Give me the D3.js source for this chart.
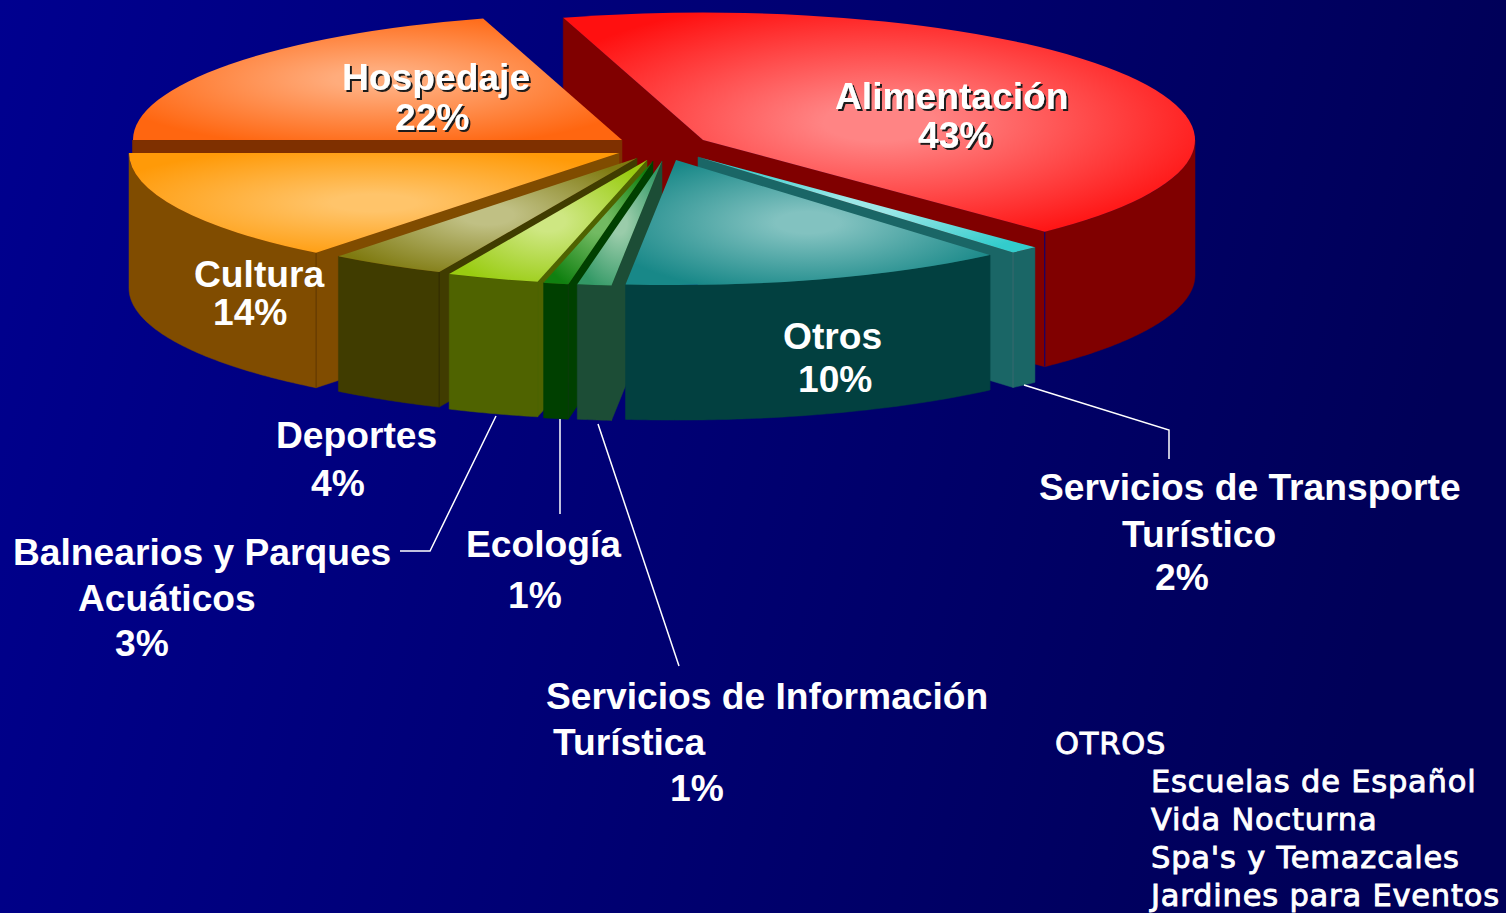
<!DOCTYPE html>
<html>
<head>
<meta charset="utf-8">
<script src="https://cdn.jsdelivr.net/npm/d3@7"></script>
<style>
  html, body { margin: 0; padding: 0; background: #000070; }
  svg { display: block; }
  text { font-family: "Liberation Sans", Arial, sans-serif; font-weight: bold; font-size: 37.2px; fill: #fff; }
  .otros text { font-family: "DejaVu Sans", sans-serif; font-weight: normal; font-size: 30.5px; letter-spacing: 0.8px; stroke: #fff; stroke-width: 0.9px; }
</style>
</head>
<body>
<svg id="chart" width="1506" height="913"></svg>
<script>
const names = ["Alimentación", "Servicios de Transporte Turístico", "Otros", "Servicios de Información Turística",
  "Ecología", "Balnearios y Parques Acuáticos", "Deportes", "Cultura", "Hospedaje"];
// percentages printed on the chart
const percents = [43, 2, 10, 1, 1, 3, 4, 14, 22];
// the picture does not draw the slices at their printed size, so this is the share
const drawnShares = [42.36, 0.97, 12.92, 1.14, 0.83, 3.08, 3.89, 14.39, 20.42];

// how far each slice is pulled out of the pie centre
const explodeX = [53, 48, 26, 12, 3, -3, -13, -31, -28];
const explodeY = [-10, 7, 10, 11, 11, 10, 8, 3, -10];
// the front slices look a little smaller in the original's perspective
const sliceRadius = [492, 485, 483, 483, 483, 483, 483, 490, 489];

const edgeColors = ["#ff1010", "#33cccc", "#188888", "#339966", "#108010", "#99cc11", "#7f7a10", "#ff9a08", "#ff6610"];
const lightColors = ["#ff8484", "#9ce8e8", "#82c2c0", "#9accaa", "#72ba62", "#cee782", "#c0c084", "#ffc46a", "#ffac7c"];
const wallColors = ["#800000", "#1a6666", "#024040", "#1c4d36", "#004000", "#4f6300", "#403c00", "#804c00", "#7f3000"];
const seamColors = ["#000080", "#3a6a70", "#024040", "#1c4d36", "#0a3a0a", "#4f6300", "#302c00", "#5f3800", "#7f3000"];

const drawOrder = [0, 8, 7, 6, 5, 4, 3, 1, 2];

const sliceLabels = [
  { lines: [["Alimentación", 835, 109], ["43%", 918, 148]], shadow: true },
  { lines: [["Hospedaje", 342, 90], ["22%", 395, 130]], shadow: true },
  { lines: [["Cultura", 194, 287], ["14%", 213, 325]] },
  { lines: [["Otros", 783, 349], ["10%", 798, 392]] },
  { lines: [["Deportes", 276, 448], ["4%", 311, 496]] },
  { lines: [["Balnearios y Parques", 13, 565], ["Acuáticos", 78, 611], ["3%", 115, 656]] },
  { lines: [["Ecología", 466, 557], ["1%", 508, 608]] },
  { lines: [["Servicios de Información", 546, 709], ["Turística", 553, 755], ["1%", 670, 801]] },
  { lines: [["Servicios de Transporte", 1039, 500], ["Turístico", 1122, 547], ["2%", 1155, 590]] },
];
const otrosTitle = "OTROS";
const otrosItems = ["Escuelas de Español", "Vida Nocturna", "Spa's y Temazcales", "Jardines para Eventos"];

const leaders = [
  [[1024, 385], [1169, 430], [1169, 459]],
  [[496, 416], [430, 551], [400, 551]],
  [[560, 419], [560, 514]],
  [[598, 424], [679, 666]],
];

const width = 1506, height = 913;
const cx = 650, cy = 150, tilt = 0.259, depth = 135;
const deg = Math.PI / 180;

const svg = d3.select("#chart");
const defs = svg.append("defs");

const bg = defs.append("linearGradient").attr("id", "bg")
  .attr("x1", 0).attr("y1", 0).attr("x2", 1).attr("y2", 0.15);
bg.append("stop").attr("offset", 0).attr("stop-color", "#00008f");
bg.append("stop").attr("offset", 1).attr("stop-color", "#000058");

const shadow = defs.append("filter").attr("id", "shadow")
  .attr("x", "-10%").attr("y", "-10%").attr("width", "120%").attr("height", "130%");
shadow.append("feDropShadow").attr("dx", 2).attr("dy", 2).attr("stdDeviation", 0.4).attr("flood-color", "#1a1a1a");

svg.append("rect").attr("width", width).attr("height", height).attr("fill", "url(#bg)");

const pie = d3.pie().sort(null).value(d => d)
  .startAngle(-16.5 * deg).endAngle(343.5 * deg);
const arcs = pie(drawnShares);

const topArc = d3.arc().innerRadius(0);
const line = d3.line().x(d => d[0]).y(d => d[1]);

edgeColors.forEach((c, i) => {
  const g = defs.append("radialGradient").attr("id", "top" + i)
    .attr("cx", 0.5).attr("cy", 0.5).attr("r", 0.58);
  g.append("stop").attr("offset", 0.15).attr("stop-color", lightColors[i]);
  g.append("stop").attr("offset", 1).attr("stop-color", c);
});

function rimPoint(i, a) {
  const r = sliceRadius[i];
  return [cx + explodeX[i] + r * Math.sin(a), cy + explodeY[i] - r * tilt * Math.cos(a)];
}

function cutFace(i, a) {
  const apex = [cx + explodeX[i], cy + explodeY[i]];
  const rim = rimPoint(i, a);
  return [apex, rim, [rim[0], rim[1] + depth], [apex[0], apex[1] + depth]];
}

drawOrder.forEach(i => {
  const { startAngle: a0, endAngle: a1 } = arcs[i];
  const g = svg.append("g").attr("class", "slice");
  const wall = wallColors[i];

  // the cut faces that turn towards the viewer
  if (Math.sin(a0) < -0.001) {
    g.append("path").attr("d", line(cutFace(i, a0)) + "Z").attr("fill", wall).attr("stroke", wall).attr("stroke-width", 0.5);
  }
  if (Math.sin(a1) > 0.001) {
    g.append("path").attr("d", line(cutFace(i, a1)) + "Z").attr("fill", wall).attr("stroke", wall).attr("stroke-width", 0.5);
  }

  // outer wall, only the front half of the rim can be seen
  const from = Math.max(a0, 90 * deg), to = Math.min(a1, 270 * deg);
  if (to > from) {
    const angles = d3.range(from, to, 0.01).concat([to]);
    const upper = angles.map(a => rimPoint(i, a));
    const lower = upper.map(p => [p[0], p[1] + depth]).reverse();
    g.append("path").attr("d", line(upper.concat(lower)) + "Z").attr("fill", wall).attr("stroke", wall).attr("stroke-width", 0.5);

    const seamAngle = Math.sin(a1) > 0.001 ? to : from;
    const seam = rimPoint(i, seamAngle);
    g.append("line").attr("x1", seam[0]).attr("y1", seam[1])
      .attr("x2", seam[0]).attr("y2", seam[1] + depth)
      .attr("stroke", seamColors[i]).attr("stroke-width", 1);
  }

  g.append("path")
    .attr("transform", `translate(${cx + explodeX[i]},${cy + explodeY[i]}) scale(1,${tilt})`)
    .attr("d", topArc({ startAngle: a0, endAngle: a1, outerRadius: sliceRadius[i] }))
    .attr("fill", `url(#top${i})`);
});

svg.append("g").selectAll("path").data(leaders).join("path")
  .attr("d", line).attr("fill", "none").attr("stroke", "#fff").attr("stroke-width", 1.5);

sliceLabels.forEach(l => {
  const g = svg.append("g");
  if (l.shadow) g.attr("filter", "url(#shadow)");
  l.lines.forEach(([t, x, y]) => g.append("text").attr("x", x).attr("y", y).text(t));
});

const otros = svg.append("g").attr("class", "otros");
otros.append("text").attr("x", 1055).attr("y", 754).text(otrosTitle);
otrosItems.forEach((t, i) => {
  otros.append("text").attr("x", 1151).attr("y", 792 + i * 38).text(t);
});
</script>
</body>
</html>
